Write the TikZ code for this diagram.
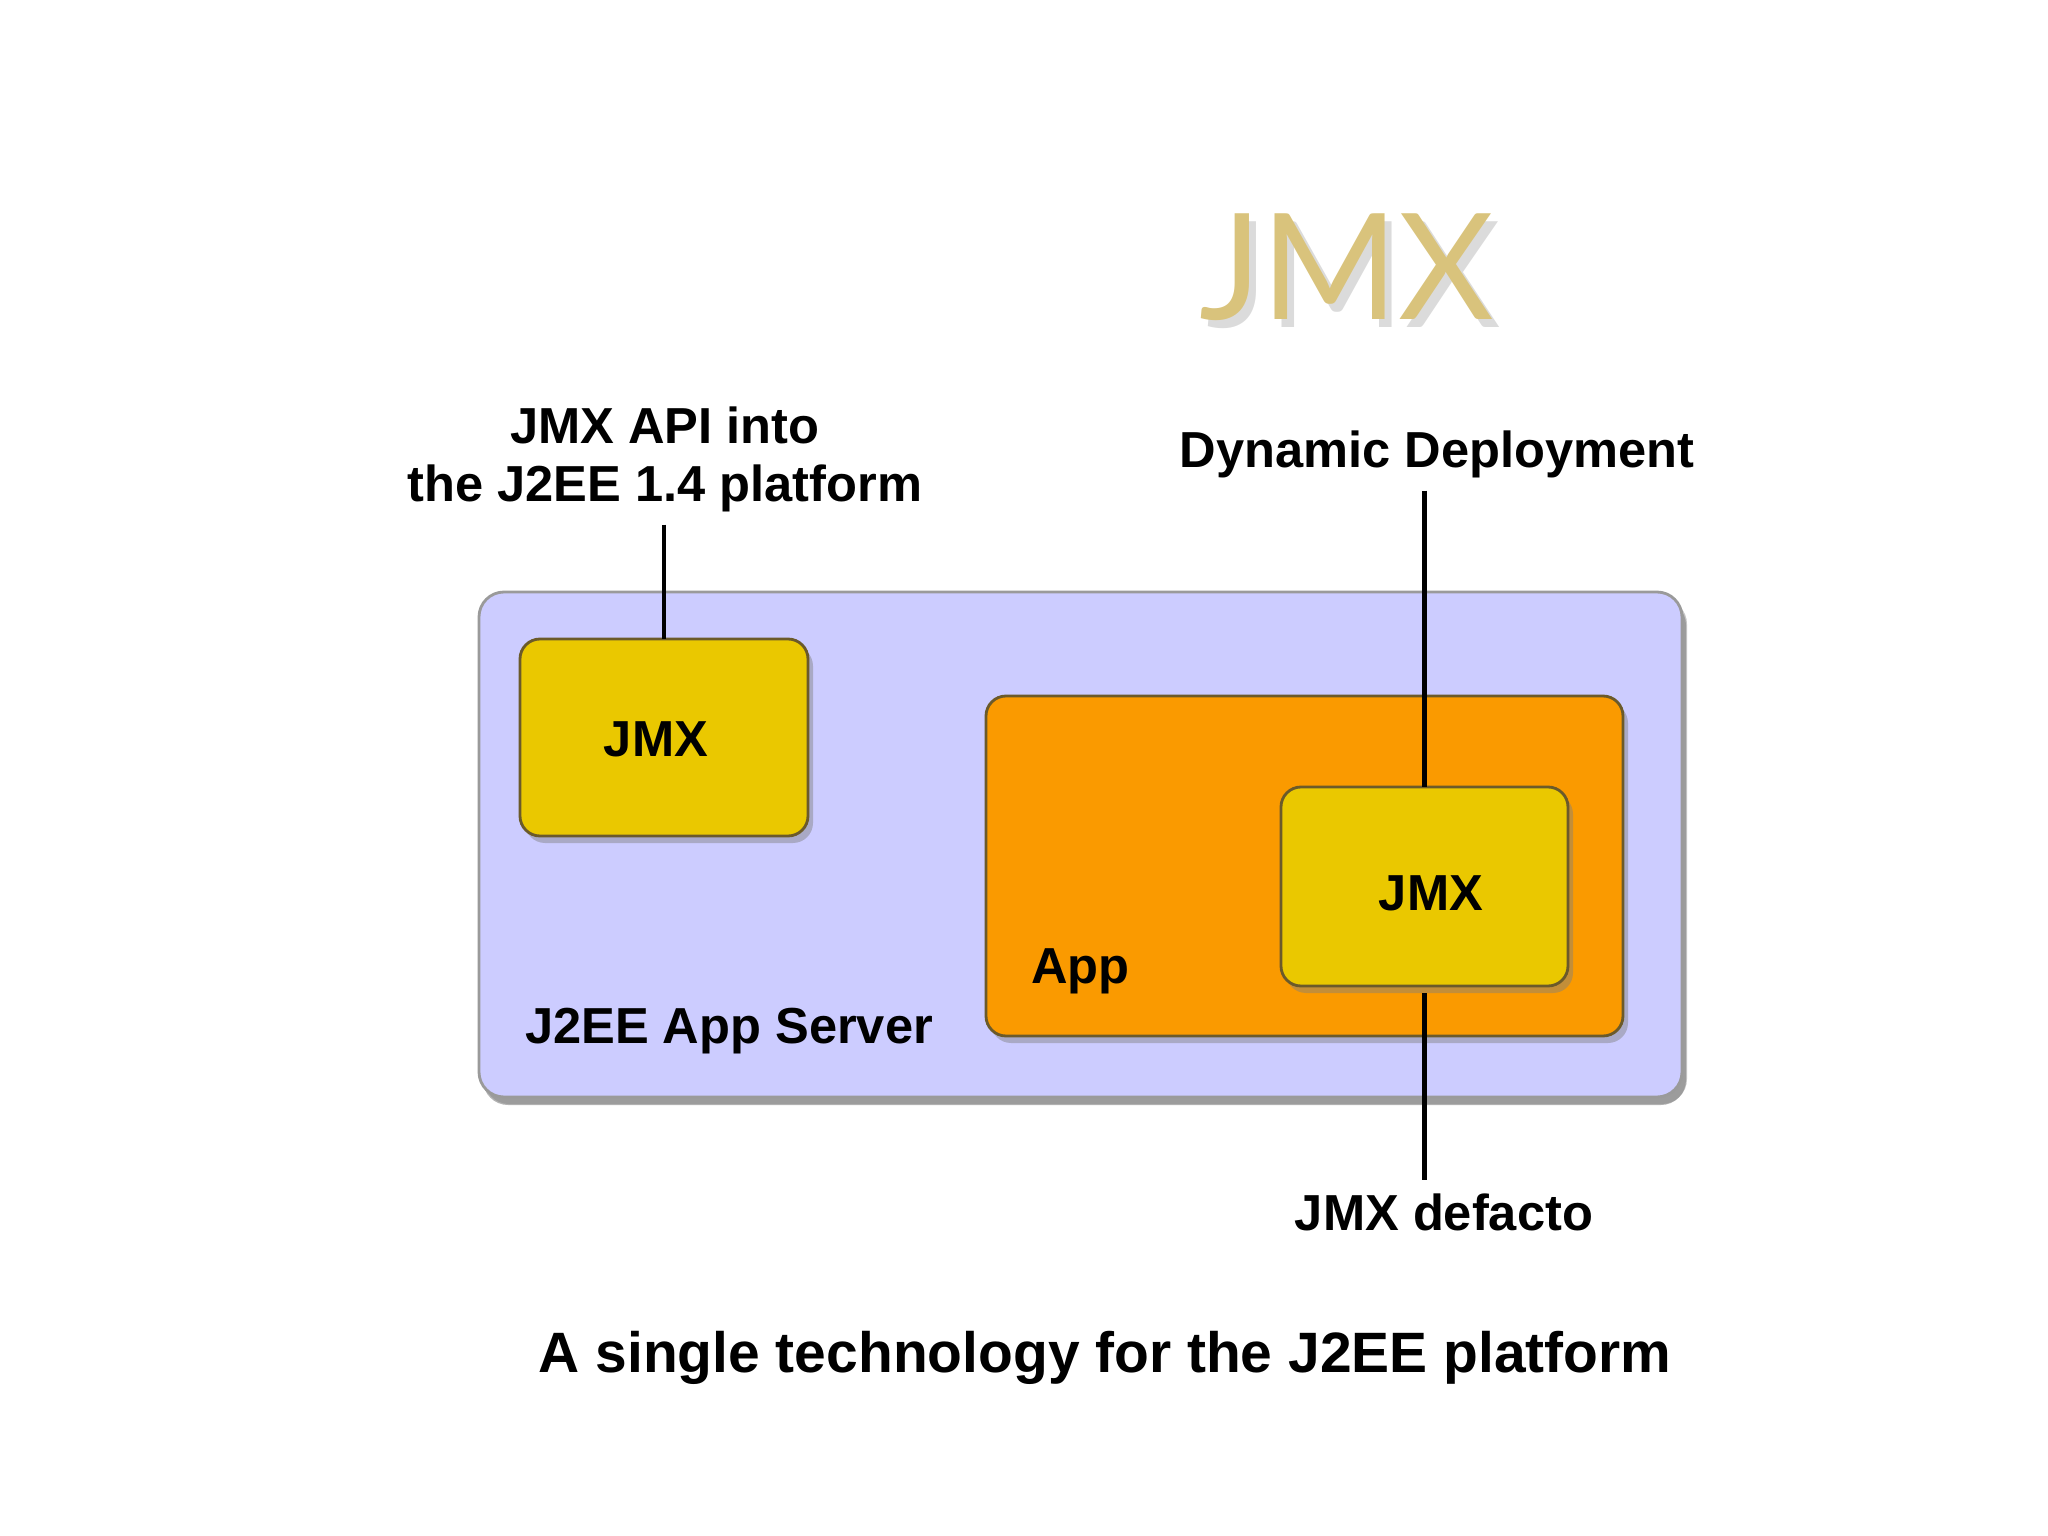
\documentclass[tikz,border=0pt]{standalone}
\usepackage{fontspec}
\setmainfont{Liberation Sans}
\newfontfamily\titlefont{Lato}
\usetikzlibrary{shadows}
\usetikzlibrary{calc}
\usepackage{xcolor}
\definecolor{mylavender}{HTML}{CCCCFF}
\definecolor{myyellow}{HTML}{EAC800}
\definecolor{myorange}{HTML}{FA9A00}
\definecolor{mygold}{HTML}{D9C37C}
\definecolor{myedge}{HTML}{6B5A2A}
\definecolor{myframe}{HTML}{9A9A9A}

\begin{document}
\begin{tikzpicture}[thick,
    box/.style={rounded corners=0.2cm, draw=myedge, line width=0.8pt,
      inner sep=0pt, outer sep=0pt,
      drop shadow={shadow xshift=0.05cm, shadow yshift=-0.07cm, opacity=0.45}},
    lbl/.style={font=\fontsize{14.4}{16.5}\selectfont\bfseries, align=center},
    lead/.style={-, line width=1.3pt, color=black}]

      \useasboundingbox (0,0) rectangle (20.48,-15.36);

      \pgfmathsetmacro{\titleY}{-2.67}
      \pgfmathsetmacro{\textY}{-4.59}
      \pgfmathsetmacro{\defactoY}{-12.12}
      \pgfmathsetmacro{\captionY}{-13.58}

      % TITLE
      \node [name=tshadow, color=black, opacity=0.14, font=\titlefont\fontsize{42}{46}\selectfont]
        at (13.54,\titleY-0.08) {JMX};
      \node [name=title, color=mygold, font=\titlefont\fontsize{42}{46}\selectfont]
        at (13.47,\titleY) {JMX};

      % server
      \node [name=server, box, draw=myframe, fill=mylavender, rounded corners=0.25cm,
        minimum width=12.03cm, minimum height=5.05cm,
        drop shadow={shadow xshift=0.04cm, shadow yshift=-0.08cm, opacity=0.6}]
        at (10.805,-8.445) {};
      \node [name=serverText, lbl, anchor=west] at (5.12,-10.31) {J2EE App Server};

      % app
      \node [name=app, box, fill=myorange, minimum width=6.37cm, minimum height=3.40cm]
        at (13.045,-8.66) {};
      \node [name=appText, lbl, anchor=west] at (10.18,-9.71) {App};

      % jmx boxes
      \node [name=jmx1, box, fill=myyellow, minimum width=2.88cm, minimum height=1.97cm]
        at (6.64,-7.375) {};
      \node [name=jmx1Text, lbl] at (6.56,-7.39) {JMX};
      \node [name=jmx2, box, fill=myyellow, minimum width=2.87cm, minimum height=1.99cm]
        at (14.245,-8.865) {};
      \node [name=jmx2Text, lbl] at (14.31,-8.93) {JMX};

      % labels
      \node [name=apiText, lbl] at (6.65,\textY) {JMX API into\\the J2EE 1.4 platform};
      \node [name=depText, lbl] at (14.37,-4.54) {Dynamic Deployment};
      \node [name=defText, lbl] at (14.44,\defactoY) {JMX defacto};

      \draw [lead] (apiText.south -| jmx1) -- (jmx1.north);
      \draw [lead] (depText.south -| jmx2) -- (jmx2.north);
      \draw [lead, shorten <=0.07cm] (jmx2.south) -- (defText.north -| jmx2);

      % caption
      \node [name=caption, font=\fontsize{16.2}{19}\selectfont\bfseries]
        at (11.05,\captionY) {A single technology for the J2EE platform};

\end{tikzpicture}
\end{document}
